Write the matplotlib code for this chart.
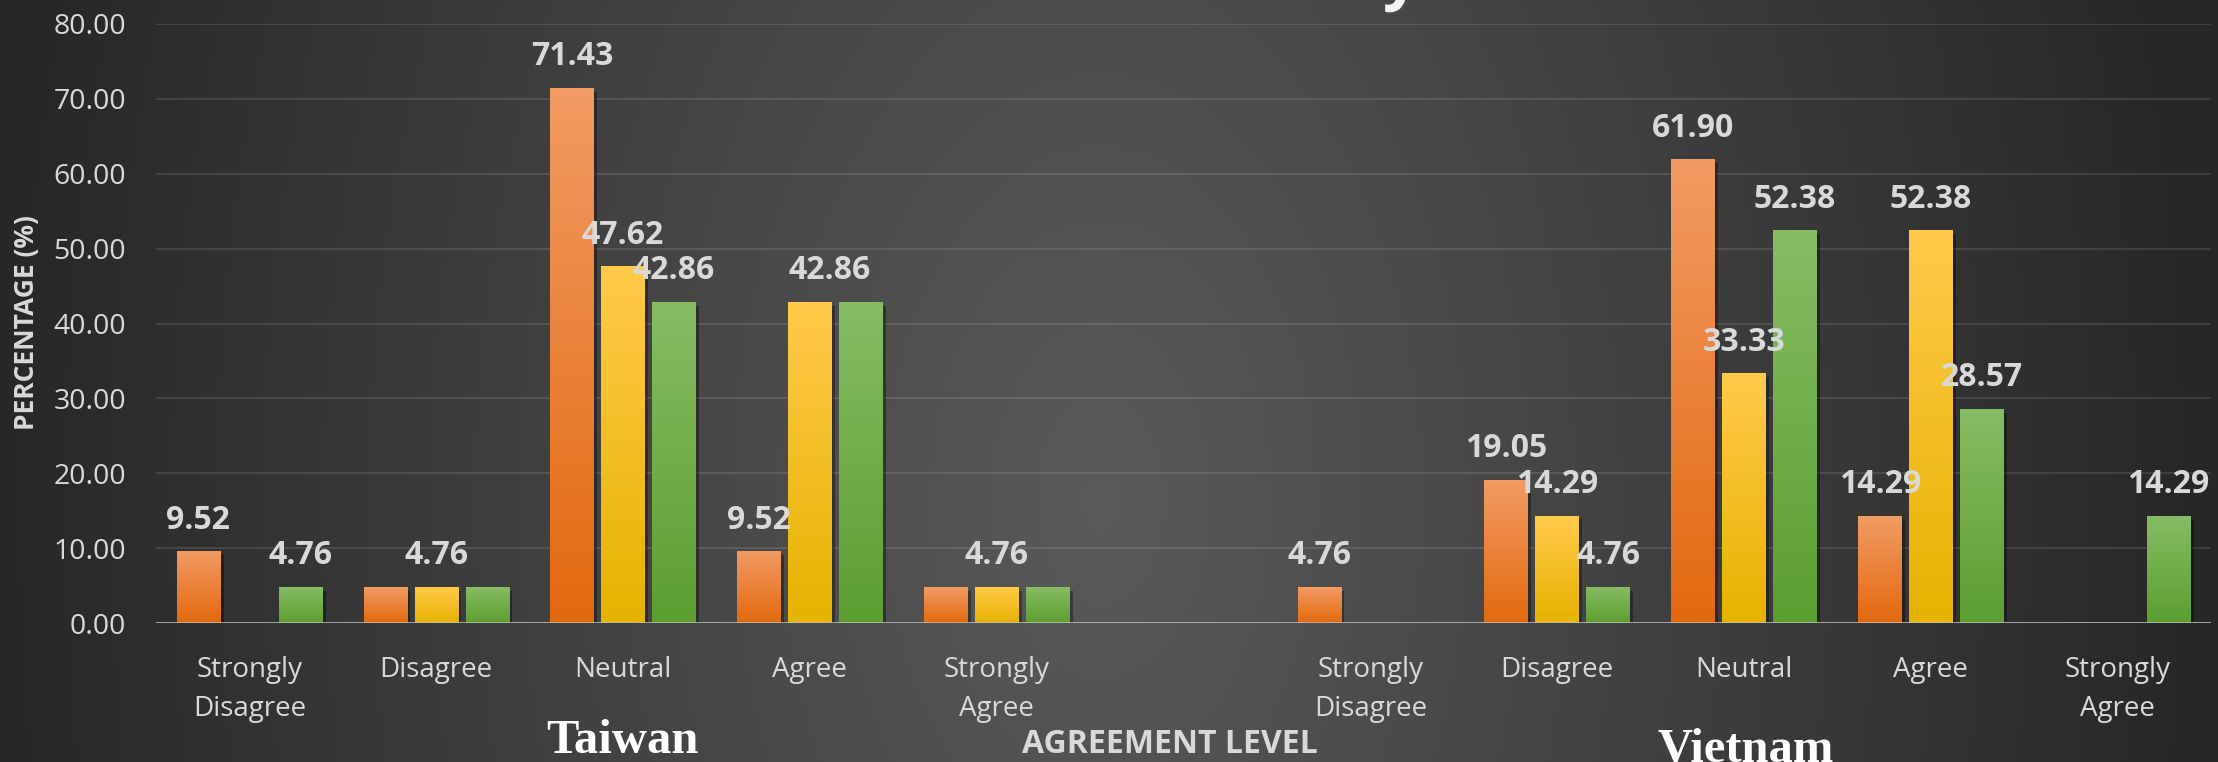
import numpy as np
import matplotlib
matplotlib.use('Agg')
import matplotlib.pyplot as plt
from matplotlib import patheffects as pe

plt.rcParams['font.family'] = ['Open Sans', 'DejaVu Sans']

levels = ['Strongly\nDisagree', 'Disagree', 'Neutral', 'Agree', 'Strongly\nAgree']
countries = ['Taiwan', 'Vietnam']

# three series per level (orange, yellow, green)
taiwan_s1 = [9.52, 4.76, 71.43, 9.52, 4.76]
taiwan_s2 = [0, 4.76, 47.62, 42.86, 4.76]
taiwan_s3 = [4.76, 4.76, 42.86, 42.86, 4.76]
vietnam_s1 = [4.76, 19.05, 61.90, 14.29, 0]
vietnam_s2 = [0, 14.29, 33.33, 52.38, 0]
vietnam_s3 = [0, 4.76, 52.38, 28.57, 14.29]

# which data labels are shown in the original chart
taiwan_lbl1 = [1, 0, 1, 1, 0]
taiwan_lbl2 = [0, 1, 1, 1, 1]
taiwan_lbl3 = [1, 0, 1, 0, 0]
vietnam_lbl1 = [1, 1, 1, 1, 0]
vietnam_lbl2 = [0, 1, 1, 1, 0]
vietnam_lbl3 = [0, 1, 1, 1, 1]

W, H = 2218, 762
fig = plt.figure(figsize=(W / 100, H / 100), dpi=100)

# dark radial background
bg = fig.add_axes([0, 0, 1, 1])
yy, xx = np.mgrid[0:H, 0:W]
d = np.sqrt(((xx - 1100) / 1100.0) ** 2 + ((yy - 500) / 1800.0) ** 2)
d = np.clip(d, 0, 1)
c0 = np.array([0x5a, 0x5a, 0x5a]) / 255.0
c1 = np.array([0x27, 0x27, 0x27]) / 255.0
bg.imshow(c0 + (c1 - c0) * d[..., None], aspect='auto', extent=[0, 1, 0, 1])
bg.axis('off')

ax = fig.add_axes([156 / W, (H - 623) / H, (2211 - 156) / W, (623 - 24) / H])
ax.set_facecolor('none')

txt = '#D9D9D9'
grads = [('#F29B63', '#E3690F'), ('#FFCA4A', '#E6B300'), ('#86BD64', '#5C9E30')]
offs = [-0.273, 0.0, 0.273]
bw = 0.232

tw_x = np.arange(5)
vn_x = np.arange(5) + 6

def draw(xs, vals, shows, k):
    bars = ax.bar(xs + offs[k], vals, width=bw, color=grads[k][1], zorder=3,
                  path_effects=[pe.SimplePatchShadow(offset=(2.5, -2.5), shadow_rgbFace='black', alpha=0.35),
                                pe.Normal()])
    top = np.array(matplotlib.colors.to_rgb(grads[k][0]))
    bot = np.array(matplotlib.colors.to_rgb(grads[k][1]))
    t = np.linspace(0, 1, 100)[:, None, None]
    g = top + (bot - top) * t
    for b, v, s in zip(bars, vals, shows):
        if v <= 0:
            continue
        x0 = b.get_x()
        ax.imshow(g, extent=[x0, x0 + b.get_width(), 0, v], aspect='auto', zorder=4,
                  origin='upper', interpolation='bilinear')
        if s:
            nud = 14.4 if (k == 1 and v == 42.86) else 0
            ax.annotate(f'{v:.2f}', (x0 + b.get_width() / 2, v), xytext=(nud, 16.5),
                        textcoords='offset points', ha='center', va='baseline',
                        fontsize=23, fontweight='bold', color=txt, zorder=6)

for k, (vals, shows) in enumerate([(taiwan_s1, taiwan_lbl1), (taiwan_s2, taiwan_lbl2), (taiwan_s3, taiwan_lbl3)]):
    draw(tw_x, vals, shows, k)
for k, (vals, shows) in enumerate([(vietnam_s1, vietnam_lbl1), (vietnam_s2, vietnam_lbl2), (vietnam_s3, vietnam_lbl3)]):
    draw(vn_x, vals, shows, k)

ax.set_xlim(-0.5, 10.5)
ax.set_ylim(0, 80)
ax.set_yticks(np.arange(0, 81, 10))
ax.set_yticklabels([f'{v:.2f}' for v in np.arange(0, 81, 10)])
ax.set_xticks(list(tw_x) + list(vn_x))
ax.set_xticklabels(levels + levels, linespacing=1.52)
ax.tick_params(axis='y', length=0, pad=21.6, labelsize=20.5, labelcolor=txt)
ax.tick_params(axis='x', length=0, pad=24, labelsize=20, labelcolor=txt)
ax.yaxis.grid(True, color='white', alpha=0.12, lw=1.3)
ax.set_axisbelow(True)
for s in ax.spines.values():
    s.set_visible(False)
ax.axhline(0, color='#BFBFBF', lw=1.8, zorder=5)

fig.text(27 / W, 1 - 323 / H, 'PERCENTAGE (%)', rotation=90, ha='center', va='center',
         fontsize=19, fontweight='bold', color=txt)
fig.text(1170 / W, (H - 753) / H, 'AGREEMENT LEVEL', ha='center', va='baseline',
         fontsize=23, fontweight='bold', color=txt)
fig.text(622 / W, (H - 753) / H, countries[0], ha='center', va='baseline',
         family='Liberation Serif', fontweight='bold', fontsize=35, color='white')
fig.text(1746 / W, (H - 761) / H, countries[1], ha='center', va='baseline',
         family='Liberation Serif', fontweight='bold', fontsize=35, color='white')
fig.text(1103 / W, 1 + 3 / H, 'Perceived Efficiency', ha='center', va='baseline',
         fontsize=46, fontweight='bold', color='#F2F2F2',
         path_effects=[pe.withSimplePatchShadow(offset=(2, -2), alpha=0.5)])

fig.savefig('out.png', dpi=100)
